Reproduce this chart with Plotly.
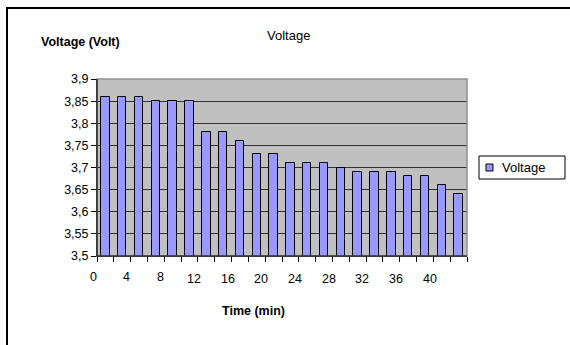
import plotly.graph_objects as go

# ---- data ----
time_min = [0, 2, 4, 6, 8, 10, 12, 14, 16, 18, 20, 22, 24, 26, 28, 30, 32, 34, 36, 38, 40, 42]
voltage = [3.86, 3.86, 3.86, 3.85, 3.85, 3.85, 3.78, 3.78, 3.76, 3.73, 3.73,
           3.71, 3.71, 3.71, 3.70, 3.69, 3.69, 3.69, 3.68, 3.68, 3.66, 3.64]
x_labels = [0, 4, 8, 12, 16, 20, 24, 28, 32, 36, 40]
y_ticks = [3.5, 3.55, 3.6, 3.65, 3.7, 3.75, 3.8, 3.85, 3.9]

W, H = 570, 345
L, R, T, B = 97, 467, 79, 256  # plot area in pixels
X_RANGE = [-1, 43]


def px(xp):
    return (xp - L) / (R - L)


def py(yp):
    return (B - yp) / (B - T)


def data_to_paper(v):
    return (v - X_RANGE[0]) / (X_RANGE[1] - X_RANGE[0])


FONT = "Liberation Sans, Arial, sans-serif"

fig = go.Figure()
fig.add_trace(go.Bar(
    x=time_min, y=voltage, name="Voltage", width=1.0,
    marker=dict(color="#9999FF", line=dict(color="black", width=1)),
    showlegend=False,
))

fig.update_layout(
    width=W, height=H,
    margin=dict(l=L, r=W - R, t=T, b=H - B, pad=0),
    paper_bgcolor="white",
    plot_bgcolor="#C0C0C0",
    font=dict(family=FONT, size=12, color="black"),
    bargap=0,
    xaxis=dict(
        range=X_RANGE,
        tickmode="linear", tick0=-1, dtick=2,
        ticks="outside", ticklen=5, tickcolor="black",
        showticklabels=False,
        showgrid=False, zeroline=False,
        showline=True, linecolor="black", linewidth=1,
    ),
    yaxis=dict(
        range=[3.5, 3.9],
        tickmode="array",
        tickvals=y_ticks,
        ticktext=[f"{v:g}".replace(".", ",") for v in y_ticks],
        ticks="outside", ticklen=5, tickcolor="black",
        showgrid=True, gridcolor="#303030", gridwidth=1,
        zeroline=False,
        showline=True, linecolor="black", linewidth=1,
        tickfont=dict(size=12.5),
    ),
)

shapes = []
# plot area border (gray)
shapes.append(dict(type="rect", xref="paper", yref="paper", x0=0, x1=1, y0=0, y1=1,
                   line=dict(color="#909090", width=1.5), layer="above"))
# re-draw axis lines on top
shapes.append(dict(type="line", xref="paper", yref="paper", x0=0, x1=1, y0=0, y1=0,
                   line=dict(color="black", width=1), layer="above"))
shapes.append(dict(type="line", xref="paper", yref="paper", x0=0, x1=0, y0=0, y1=1,
                   line=dict(color="black", width=1), layer="above"))
# outer chart border (only top and left edges are visible in the frame)
shapes.append(dict(type="line", xref="paper", yref="paper",
                   x0=px(6), x1=px(600), y0=py(8), y1=py(8),
                   line=dict(color="black", width=2)))
shapes.append(dict(type="line", xref="paper", yref="paper",
                   x0=px(7), x1=px(7), y0=py(7), y1=py(400),
                   line=dict(color="black", width=2)))
# legend box
shapes.append(dict(type="rect", xref="paper", yref="paper",
                   x0=px(479), x1=px(565), y0=py(156), y1=py(179),
                   line=dict(color="black", width=1), fillcolor="white"))
shapes.append(dict(type="rect", xref="paper", yref="paper",
                   x0=px(486), x1=px(493), y0=py(164), y1=py(171),
                   line=dict(color="black", width=1), fillcolor="#9999FF"))
fig.update_layout(shapes=shapes)

# x tick labels (Excel draws them offset to the left of the bars)
label_shift = -1.45
for v in x_labels:
    fig.add_annotation(text=str(v), xref="paper", yref="paper",
                       x=data_to_paper(v + label_shift),
                       y=py(277 if v < 12 else 279),
                       xanchor="center", yanchor="middle",
                       showarrow=False, font=dict(size=12.5))

fig.add_annotation(text="Voltage", xref="paper", yref="paper",
                   x=px(500), y=py(167.5), xanchor="left", yanchor="middle",
                   showarrow=False, font=dict(size=13))
fig.add_annotation(text="Voltage", xref="paper", yref="paper",
                   x=px(288), y=py(36), xanchor="center", yanchor="middle",
                   showarrow=False, font=dict(size=13))
fig.add_annotation(text="<b>Voltage (Volt)</b>", xref="paper", yref="paper",
                   x=px(80), y=py(42.5), xanchor="center", yanchor="middle",
                   showarrow=False, font=dict(size=12.5))
fig.add_annotation(text="<b>Time (min)</b>", xref="paper", yref="paper",
                   x=px(253), y=py(311), xanchor="center", yanchor="middle",
                   showarrow=False, font=dict(size=12.5))

fig.write_html("out.html")
